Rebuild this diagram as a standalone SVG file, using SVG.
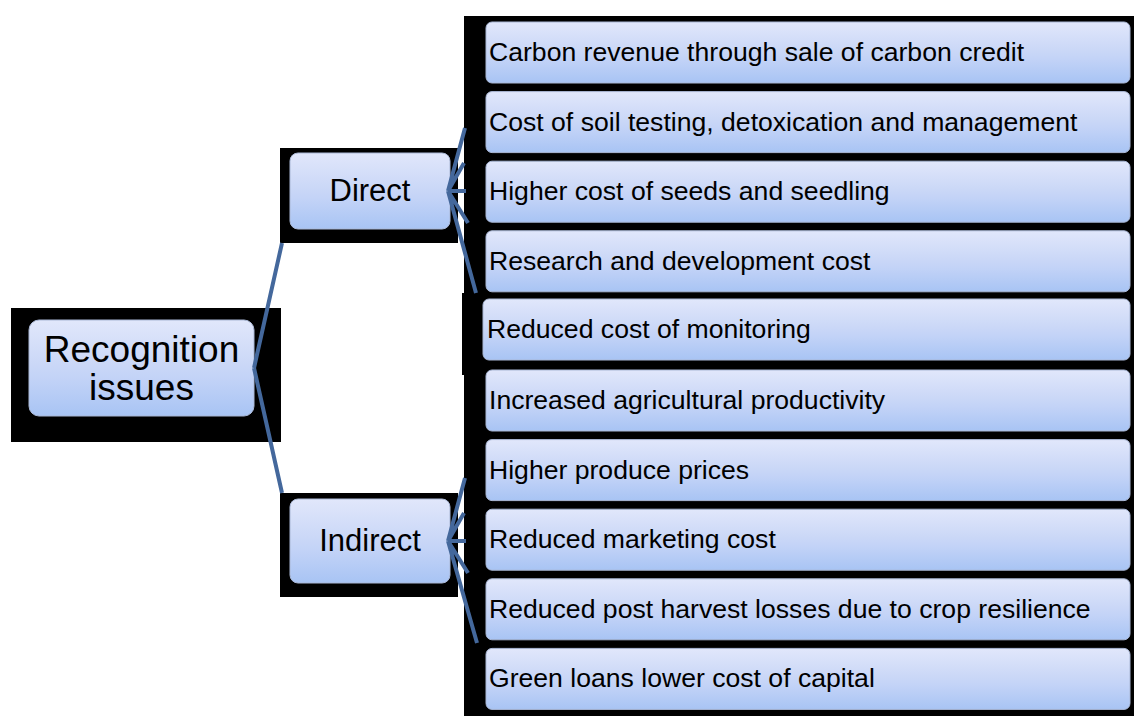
<svg xmlns="http://www.w3.org/2000/svg" width="1134" height="716" viewBox="0 0 1134 716">
  <defs>
    <linearGradient id="boxFill" x1="0" y1="0" x2="0" y2="1">
      <stop offset="0" stop-color="#e1e7fb"/>
      <stop offset="0.45" stop-color="#cbd8f7"/>
      <stop offset="0.6" stop-color="#c3d3f7"/>
      <stop offset="1" stop-color="#a8c4f4"/>
    </linearGradient>
    <style>
      .bg { fill: #000000; }
      .box { fill: url(#boxFill); stroke: #aab8d6; stroke-width: 1; }
      .lbl { font-family: "Liberation Sans", Arial, sans-serif; fill: #000000; }
      .big { font-size: 37px; text-anchor: middle; }
      .mid { font-size: 31px; text-anchor: middle; }
      .item { font-size: 26.6px; }
      .conn { stroke: #44689c; stroke-width: 4; fill: none; stroke-linecap: butt; }
    </style>
  </defs>

  <rect width="1134" height="716" fill="#ffffff"/>

  <!-- dark backing panels -->
  <g id="backing">
    <rect class="bg" x="11" y="308" width="270" height="134"/>
    <rect class="bg" x="280" y="148" width="178" height="95"/>
    <rect class="bg" x="280" y="493" width="178" height="104"/>
    <rect class="bg" x="464" y="16" width="670" height="700"/>
    <rect class="bg" x="462" y="293" width="6" height="82"/>
  </g>

  <!-- root -->
  <g id="node-recognition">
    <rect class="box" x="29" y="320" width="225" height="96" rx="10"/>
    <text class="lbl big" x="141.5" y="362">Recognition</text>
    <text class="lbl big" x="141.5" y="400">issues</text>
  </g>

  <!-- categories -->
  <g id="node-direct">
    <rect class="box" x="290" y="153" width="160" height="76" rx="8"/>
    <text class="lbl mid" x="370" y="201">Direct</text>
  </g>
  <g id="node-indirect">
    <rect class="box" x="290" y="499" width="160" height="84" rx="8"/>
    <text class="lbl mid" x="370" y="551">Indirect</text>
  </g>

  <!-- direct items -->
  <g id="item-1">
    <rect class="box" x="486" y="22" width="644" height="61" rx="6"/>
    <text class="lbl item" x="489" y="61">Carbon revenue through sale of carbon credit</text>
  </g>
  <g id="item-2">
    <rect class="box" x="486" y="91.6" width="644" height="61" rx="6"/>
    <text class="lbl item" x="489" y="130.6">Cost of soil testing, detoxication and management</text>
  </g>
  <g id="item-3">
    <rect class="box" x="486" y="161.2" width="644" height="61" rx="6"/>
    <text class="lbl item" x="489" y="200.2">Higher cost of seeds and seedling</text>
  </g>
  <g id="item-4">
    <rect class="box" x="486" y="230.8" width="644" height="61" rx="6"/>
    <text class="lbl item" x="489" y="269.8">Research and development cost</text>
  </g>
  <g id="item-5">
    <rect class="box" x="483" y="299" width="647" height="61" rx="6"/>
    <text class="lbl item" x="487" y="338.4">Reduced cost of monitoring</text>
  </g>

  <!-- indirect items -->
  <g id="item-6">
    <rect class="box" x="486" y="370" width="644" height="61" rx="6"/>
    <text class="lbl item" x="489" y="409">Increased agricultural productivity</text>
  </g>
  <g id="item-7">
    <rect class="box" x="486" y="439.6" width="644" height="61" rx="6"/>
    <text class="lbl item" x="489" y="478.6">Higher produce prices</text>
  </g>
  <g id="item-8">
    <rect class="box" x="486" y="509.2" width="644" height="61" rx="6"/>
    <text class="lbl item" x="489" y="548.2">Reduced marketing cost</text>
  </g>
  <g id="item-9">
    <rect class="box" x="486" y="578.8" width="644" height="61" rx="6"/>
    <text class="lbl item" x="489" y="617.8">Reduced post harvest losses due to crop resilience</text>
  </g>
  <g id="item-10">
    <rect class="box" x="486" y="648.4" width="644" height="61" rx="6"/>
    <text class="lbl item" x="489" y="687.4">Green loans lower cost of capital</text>
  </g>

  <!-- connectors -->
  <g id="connectors">
    <path class="conn" d="M254 368 L282 243 M254 368 L282 493"/>
    <path class="conn" d="M448 191 L465 128 M448 191 L464 163 M448 191 L466 191 M448 191 L468 223 M448 191 L476 293"/>
    <path class="conn" d="M448 541 L465 478 M448 541 L464 513 M448 541 L466 541 M448 541 L468 573 M448 541 L477 643"/>
  </g>
</svg>
